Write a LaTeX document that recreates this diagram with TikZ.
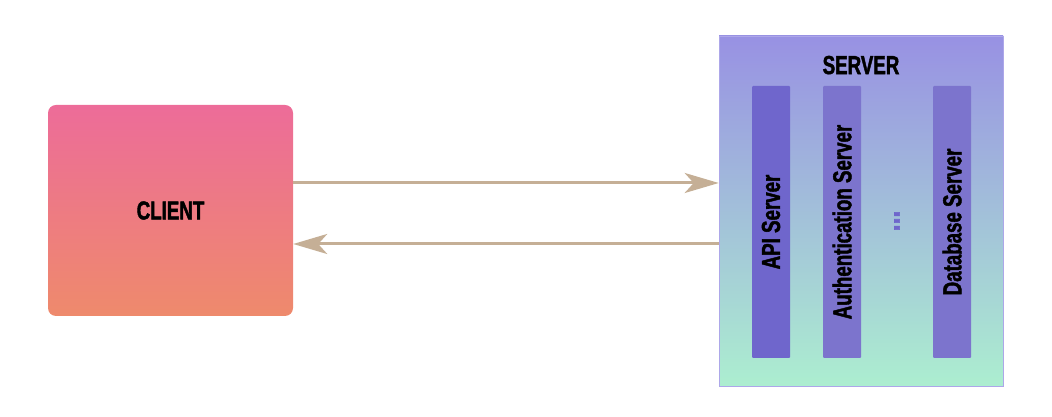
\documentclass[tikz,border=0pt]{standalone}
\usepackage{fontspec}
\newfontfamily\labelfont[FakeStretch=0.72,BoldFeatures={FakeBold=1.6}]{Liberation Sans}
\usepackage{tikz}
\usetikzlibrary{arrows.meta,positioning}
\definecolor{clienttop}{RGB}{237,108,153}
\definecolor{clientbot}{RGB}{238,138,108}
\definecolor{servertop}{RGB}{152,145,227}
\definecolor{serverbot}{RGB}{172,238,208}
\definecolor{apicol}{RGB}{111,102,204}
\definecolor{modcol}{RGB}{124,116,205}
\definecolor{tan}{RGB}{197,175,150}
\tikzset{
    etiqueta/.style={font=\labelfont\bfseries\fontsize{26}{30}\selectfont,text=black},
    clientbox/.style={rectangle,rounded corners=8pt,inner sep=0pt,top color=clienttop,bottom color=clientbot,draw=none,etiqueta},
    serverbox/.style={rectangle,inner sep=0pt,top color=servertop,bottom color=serverbot,draw=servertop!80!white,line width=0.6pt},
    modulo/.style={rectangle,rounded corners=1pt,inner sep=0pt,rotate=90,minimum width=272pt,minimum height=38pt,etiqueta},
    conn/.style={draw=tan,line width=3pt,-{Stealth[length=34pt,width=20pt,inset=9pt]}},
}
\begin{document}
\begin{tikzpicture}[x=1pt,y=1pt]
\useasboundingbox (0,0) rectangle (1052,417);

\node[clientbox,minimum width=245pt,minimum height=211pt] (client) at (170.5,206.5) {CLIENT};
\node[serverbox,minimum width=284pt,minimum height=350pt] (server) at (861,206) {};
\node[etiqueta,below=20pt of server.north,inner sep=0pt] (titulo) {SERVER};

\node[modulo,fill=apicol] (api) at (771,195) {API Server};
\node[modulo,fill=modcol] (auth) at (842,195) {Authentication Server};
\node[modulo,fill=modcol] (db) at (952,195) {Database Server};
\node[etiqueta,text=apicol,rotate=90,inner sep=0pt,font=\labelfont\bfseries\fontsize{34}{40}\selectfont] (dots) at (897,196) {...};

\draw[conn] ([yshift=27.5pt]client.east) -- ([yshift=27.5pt]client.east -| server.west);
\draw[conn] ([yshift=-33.5pt]client.east -| server.west) -- ([yshift=-33.5pt]client.east);
\end{tikzpicture}
\end{document}
